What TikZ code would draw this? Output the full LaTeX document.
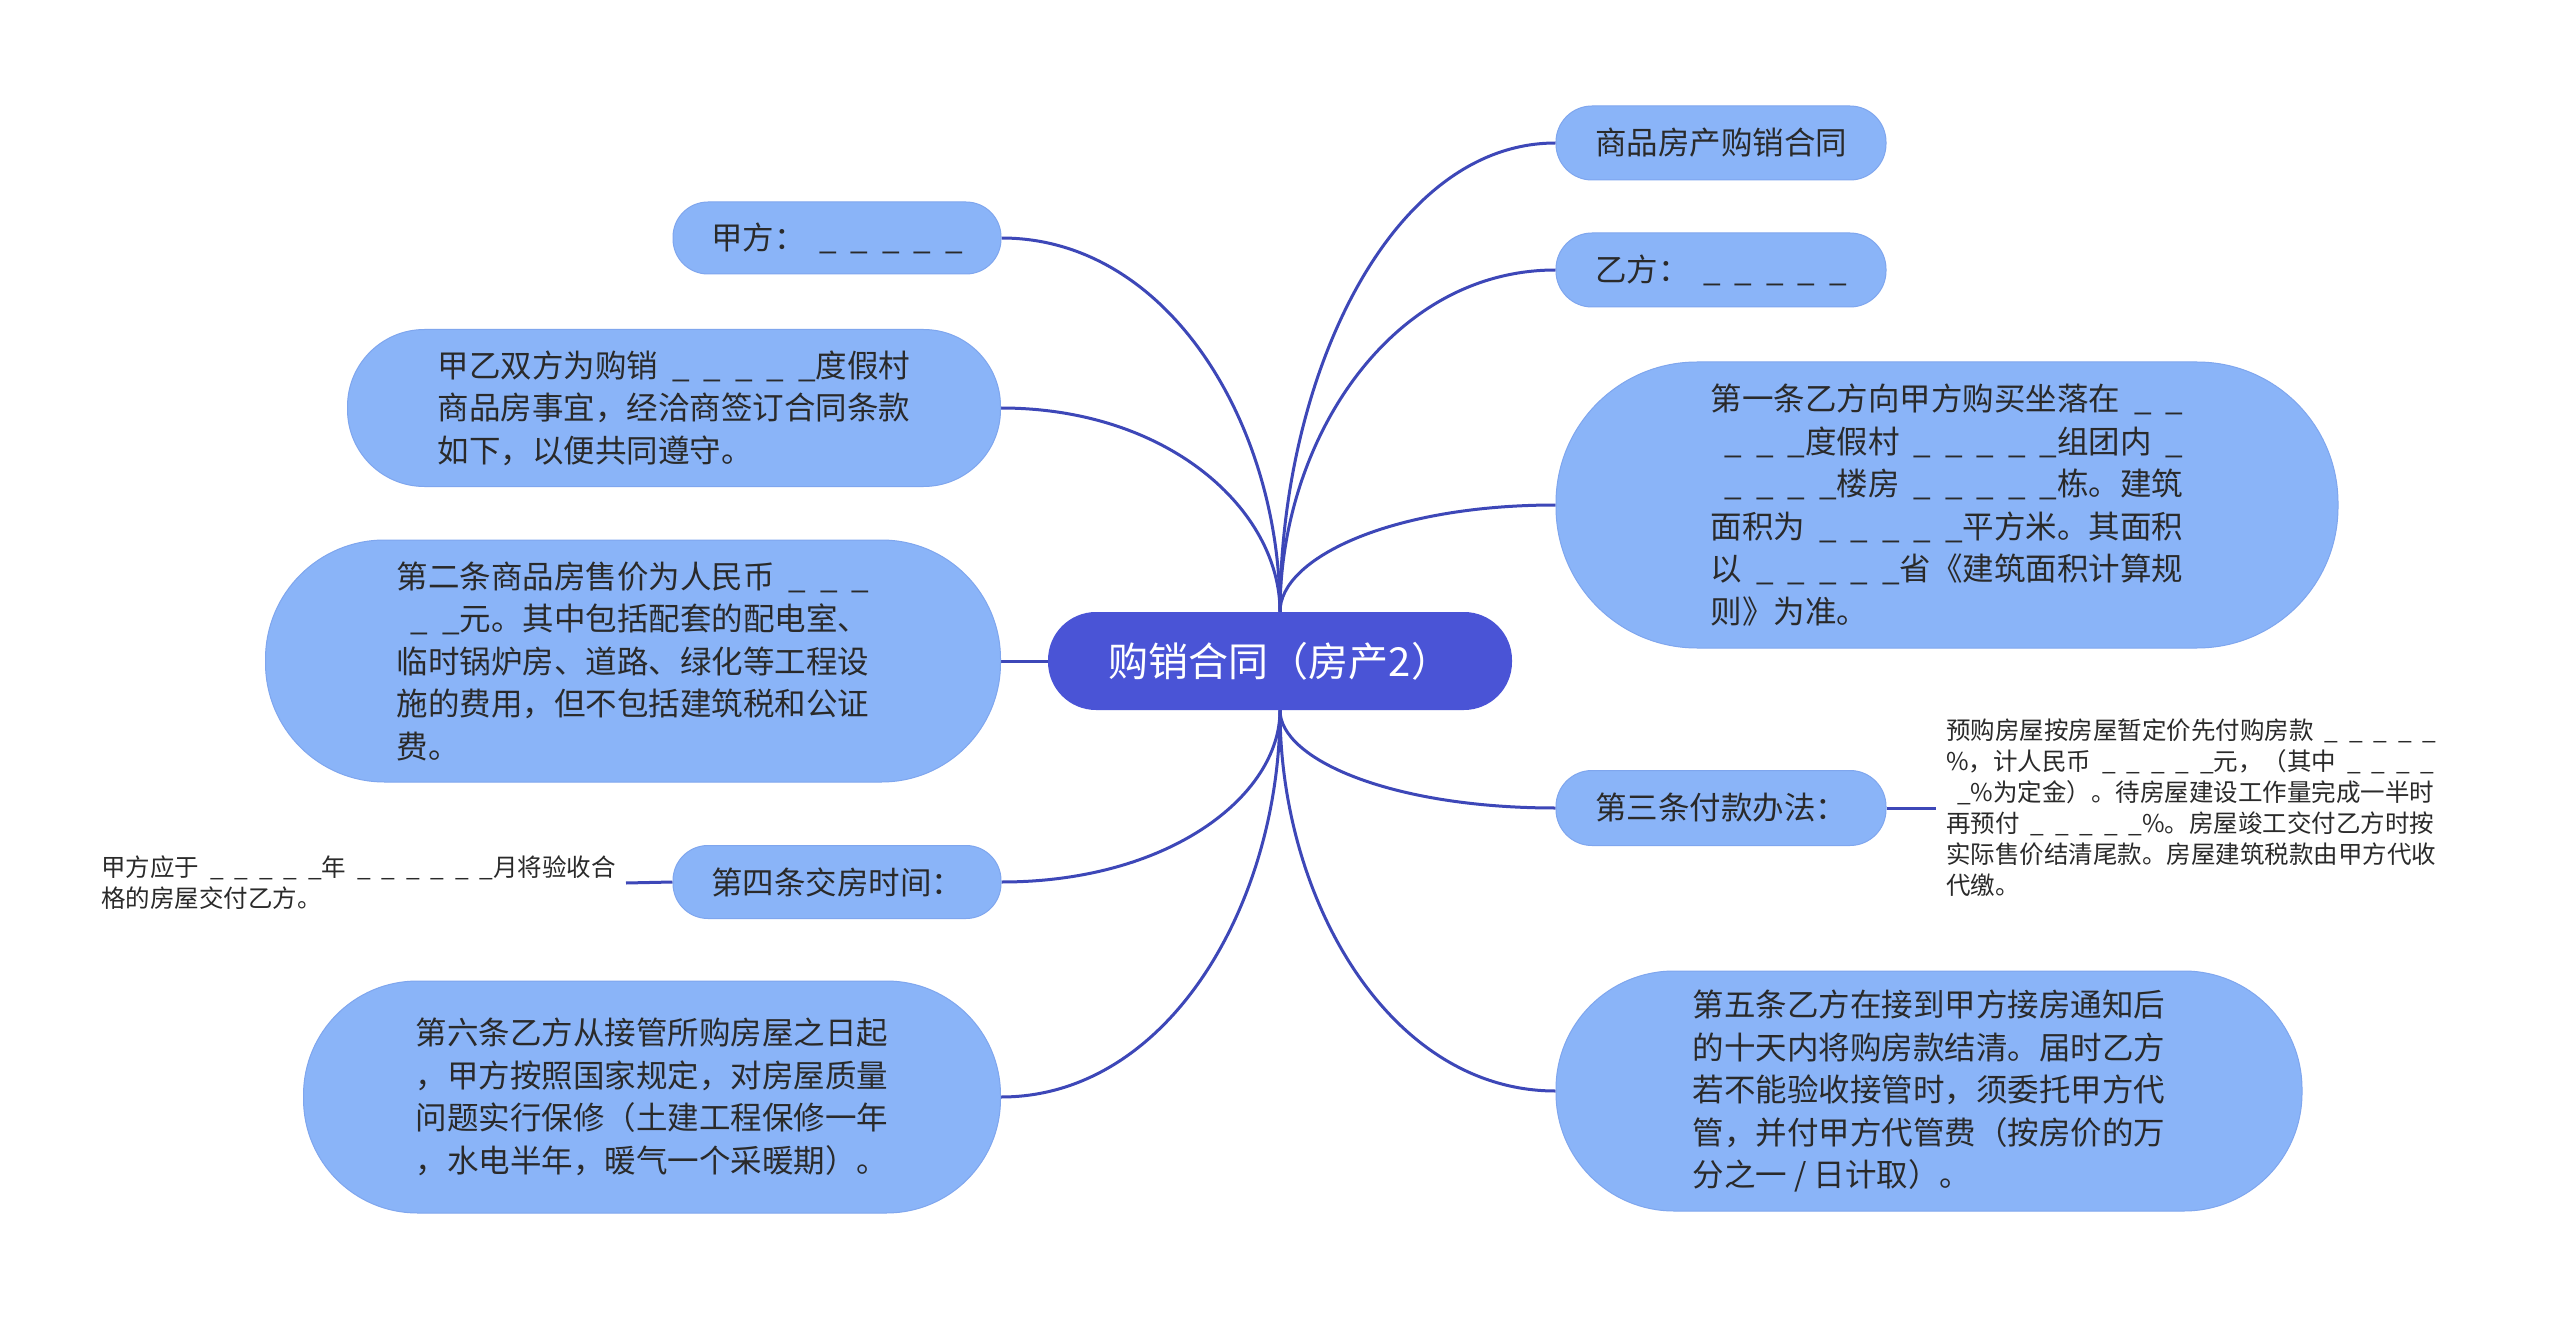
\documentclass[tikz,border=0pt]{standalone}
\usepackage{fontspec}
\setmainfont{Noto Sans CJK SC}
\usetikzlibrary{backgrounds,calc}
\definecolor{leafblue}{HTML}{8AB4F8}
\definecolor{edgeblue}{HTML}{7FA6EE}
\definecolor{rootblue}{HTML}{4A54D6}
\definecolor{linkblue}{HTML}{3D47B8}
\definecolor{txtgray}{HTML}{2A2A2A}
\newcommand\blank{\makebox[1em][r]{\_}}
\begin{document}
\begin{tikzpicture}[x=1pt,y=-1pt,
  topic/.style={fill=leafblue, draw=edgeblue, line width=1pt, text=txtgray,
    font=\fontsize{31.5}{42.5}\selectfont, align=left, inner sep=8pt},
  rootnode/.style={fill=rootblue, text=white, font=\fontsize{40}{48}\selectfont,
    inner sep=8pt, minimum width=464pt, minimum height=98pt, rounded corners=48pt},
  leaftext/.style={text=txtgray, font=\fontsize{24.5}{31}\selectfont, align=left,
    inner xsep=10pt, inner ysep=0pt},
  link/.style={draw=linkblue, line width=3pt},
  branch/.style={link, to path={.. controls ($(\tikztostart)!0.5!(\tikztostart|-\tikztotarget)$)
      and ($(\tikztotarget)!0.6!(\tikztostart|-\tikztotarget)$) .. (\tikztotarget)}}
]
\useasboundingbox (0,0) rectangle (2560,1321);

% root
\node[rootnode] (c) at (1280,661) {购销合同（房产2）};

% left side
\node[topic, minimum width=328pt, minimum height=72pt, rounded corners=35pt] (a1) at (837,238)
  {甲方：\blank{}\blank{}\blank{}\blank{}\blank{}};
\node[topic, minimum width=653pt, minimum height=157pt, rounded corners=77pt] (a2) at (674,408)
  {甲乙双方为购销\blank{}\blank{}\blank{}\blank{}\blank{}度假村\\商品房事宜，经洽商签订合同条款\\如下，以便共同遵守。};
\node[topic, minimum width=735pt, minimum height=242pt, rounded corners=119pt] (a3) at (633,661)
  {第二条商品房售价为人民币\blank{}\blank{}\blank{}\\\blank{}\blank{}元。其中包括配套的配电室、\\临时锅炉房、道路、绿化等工程设\\施的费用，但不包括建筑税和公证\\费。};
\node[topic, minimum width=328pt, minimum height=73pt, rounded corners=35pt] (a4) at (837,882)
  {第四条交房时间：};
\node[leaftext, anchor=east] (a4l) at (626,883)
  {甲方应于\blank{}\blank{}\blank{}\blank{}\blank{}年\blank{}\blank{}\blank{}\blank{}\blank{}\blank{}月将验收合\\格的房屋交付乙方。};
\node[topic, minimum width=697pt, minimum height=232pt, rounded corners=114pt] (a5) at (652,1097)
  {第六条乙方从接管所购房屋之日起\\，甲方按照国家规定，对房屋质量\\问题实行保修（土建工程保修一年\\，水电半年，暖气一个采暖期）。};

% right side
\node[topic, minimum width=330pt, minimum height=74pt, rounded corners=36pt] (b1) at (1721,143)
  {商品房产购销合同};
\node[topic, minimum width=330pt, minimum height=74pt, rounded corners=36pt] (b2) at (1721,270)
  {乙方：\blank{}\blank{}\blank{}\blank{}\blank{}};
\node[topic, minimum width=782pt, minimum height=286pt, rounded corners=141pt] (b3) at (1947,505)
  {第一条乙方向甲方购买坐落在\blank{}\blank{}\\\blank{}\blank{}\blank{}度假村\blank{}\blank{}\blank{}\blank{}\blank{}组团内\blank{}\\\blank{}\blank{}\blank{}\blank{}楼房\blank{}\blank{}\blank{}\blank{}\blank{}栋。建筑\\面积为\blank{}\blank{}\blank{}\blank{}\blank{}平方米。其面积\\以\blank{}\blank{}\blank{}\blank{}\blank{}省《建筑面积计算规\\则》为准。};
\node[topic, minimum width=330pt, minimum height=75pt, rounded corners=36pt] (b4) at (1721,808)
  {第三条付款办法：};
\node[leaftext, anchor=west] (b4l) at (1936,808)
  {预购房屋按房屋暂定价先付购房款\blank{}\blank{}\blank{}\blank{}\blank{}\\\%，计人民币\blank{}\blank{}\blank{}\blank{}\blank{}元，（其中\blank{}\blank{}\blank{}\blank{}\\\blank{}\%为定金）。待房屋建设工作量完成一半时\\再预付\blank{}\blank{}\blank{}\blank{}\blank{}\%。房屋竣工交付乙方时按\\实际售价结清尾款。房屋建筑税款由甲方代收\\代缴。};
\node[topic, minimum width=746pt, minimum height=240pt, rounded corners=118pt] (b5) at (1929,1091)
  {第五条乙方在接到甲方接房通知后\\的十天内将购房款结清。届时乙方\\若不能验收接管时，须委托甲方代\\管，并付甲方代管费（按房价的万\\分之一 / 日计取）。};

\begin{scope}[on background layer]
  \fill[white] (0,0) rectangle (2560,1321);
  \draw[branch] (c.north) to (a1.east);
  \draw[branch] (c.north) to (a2.east);
  \draw[link] (c.west) -- (a3.east);
  \draw[branch] (c.south) to (a4.east);
  \draw[branch] (c.south) to (a5.east);
  \draw[branch] (c.north) to (b1.west);
  \draw[branch] (c.north) to (b2.west);
  \draw[branch] (c.north) to (b3.west);
  \draw[branch] (c.south) to (b4.west);
  \draw[branch] (c.south) to (b5.west);
  \draw[link] (a4.west) -- (a4l.east);
  \draw[link] (b4.east) -- (b4l.west);
\end{scope}
\end{tikzpicture}
\end{document}
